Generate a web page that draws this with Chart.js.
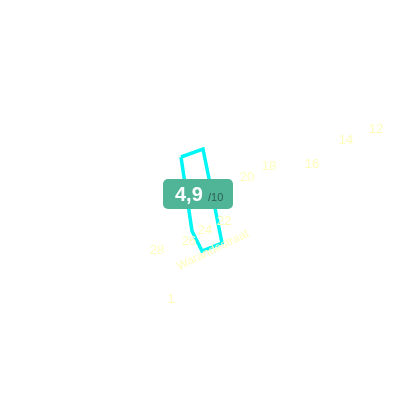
<!DOCTYPE html>
<html><head><meta charset="utf-8">
<script src="https://cdn.jsdelivr.net/npm/chart.js@4"></script>
<style>html,body{margin:0;padding:0;background:#fff}#wrap{width:400px;height:400px}</style>
</head><body><div id="wrap"><canvas id="c"></canvas></div>
<script>
// Building outline (map coordinates)
const polyX = [181, 203, 222, 202, 192];
const polyY = [157, 149, 243, 251, 231];
// House numbers
const houseNumbers = ["12","14","16","18","20","22","24","26","28","1"];
const houseX = [376, 346, 312, 269, 247, 224, 205, 189, 157, 171];
const houseY = [129, 140, 164, 166, 177, 221, 230, 241, 250, 299];
// Street name
const streetNames = ["Warandestraat"];
const streetX = [213];
const streetY = [250];
const streetAngle = [-26];
// Rating badge
const ratingValue = ["4,9"];
const ratingMax = ["/10"];
const ratingX = [198];
const ratingY = [194];

const polyData = polyX.map((x,i)=>({x, y: polyY[i]}));
polyData.push({x: polyX[0], y: polyY[0]});

const textPlugin = {
  id: 'maptext',
  afterDatasetsDraw(chart) {
    const {ctx, scales:{x, y}} = chart;
    ctx.save();
    ctx.fillStyle = '#fffdbc';
    ctx.font = '13px "Liberation Sans", Arial, sans-serif';
    ctx.textAlign = 'center';
    ctx.textBaseline = 'middle';
    houseNumbers.forEach((t,i)=>{
      ctx.fillText(t, x.getPixelForValue(houseX[i]), y.getPixelForValue(houseY[i]));
    });
    ctx.font = '12px "Liberation Sans", Arial, sans-serif';
    streetNames.forEach((t,i)=>{
      ctx.save();
      ctx.translate(x.getPixelForValue(streetX[i]), y.getPixelForValue(streetY[i]));
      ctx.rotate(streetAngle[i]*Math.PI/180);
      ctx.fillText(t, 0, 0);
      ctx.restore();
    });
    ratingValue.forEach((v,i)=>{
      const cx = x.getPixelForValue(ratingX[i]);
      const cy = y.getPixelForValue(ratingY[i]);
      const w = 70, h = 30;
      ctx.fillStyle = '#4fb596';
      ctx.beginPath();
      ctx.roundRect(cx - w/2, cy - h/2, w, h, 5);
      ctx.fill();
      ctx.textAlign = 'left';
      ctx.textBaseline = 'alphabetic';
      ctx.fillStyle = '#ffffff';
      ctx.font = 'bold 20px "Liberation Sans", Arial, sans-serif';
      ctx.fillText(v, cx - 23, cy + 7);
      ctx.fillStyle = '#2e5e4f';
      ctx.font = '11px "Liberation Sans", Arial, sans-serif';
      ctx.fillText(ratingMax[i], cx + 10, cy + 7);
    });
    ctx.restore();
  }
};

new Chart(document.getElementById('c'), {
  type: 'scatter',
  data: { datasets: [{
    data: polyData,
    showLine: true,
    borderColor: '#00f5f5',
    borderWidth: 3.5,
    pointRadius: 0,
    tension: 0,
    fill: false
  }]},
  options: {
    responsive: true,
    maintainAspectRatio: false,
    animation: false,
    layout: { padding: 0 },
    plugins: { legend: {display:false}, tooltip: {enabled:false} },
    scales: {
      x: { type: 'linear', min: 0, max: 400, display: false },
      y: { type: 'linear', min: 0, max: 400, reverse: true, display: false }
    }
  },
  plugins: [textPlugin]
});
</script>
</body></html>
